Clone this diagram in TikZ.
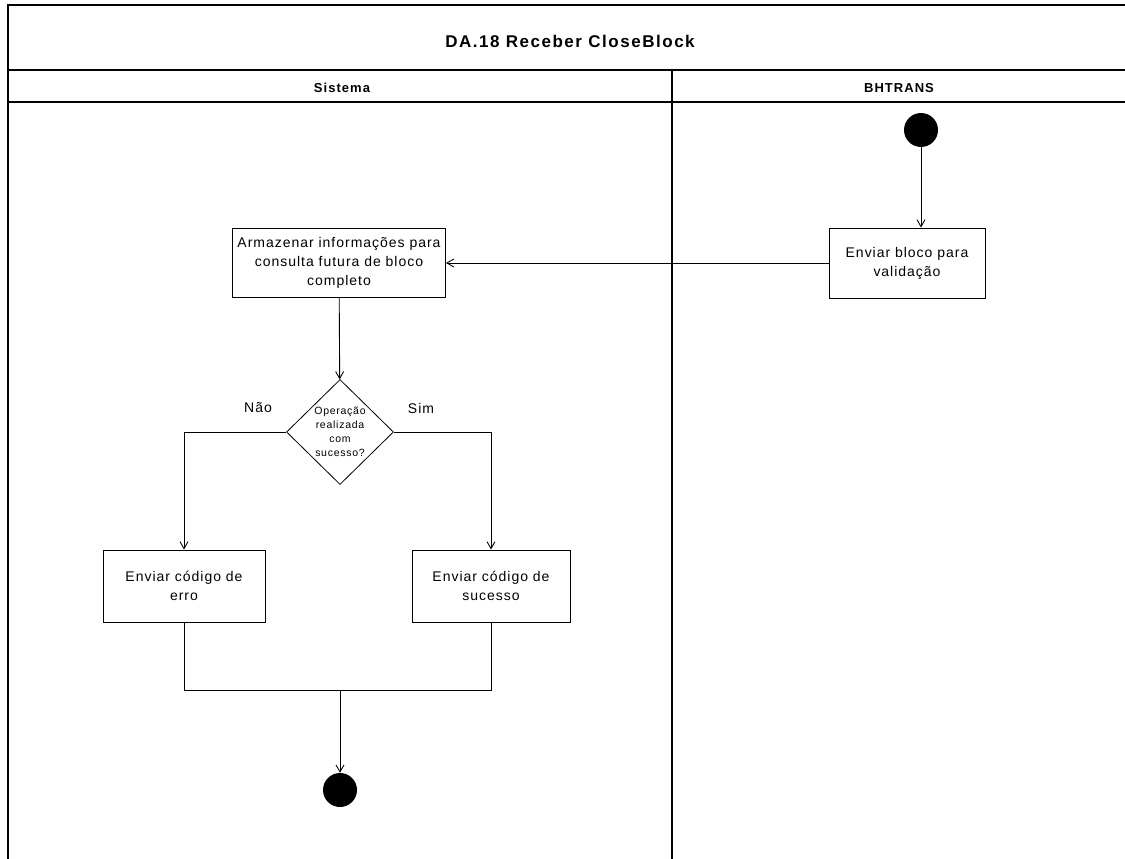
\documentclass[tikz,border=0pt]{standalone}
\usepackage{fontspec}
\setmainfont{Liberation Sans}
\newfontfamily\boxfont[LetterSpace=7]{Liberation Sans}
\newfontfamily\titlefont[LetterSpace=9]{Liberation Sans}
\newfontfamily\lanefont[LetterSpace=8]{Liberation Sans}
\usetikzlibrary{positioning,arrows.meta,shapes.geometric}
\tikzset{
    act/.style={rectangle,draw,line width=0.9pt,align=center,inner sep=2pt,font={\boxfont\fontsize{14}{19}\selectfont}},
    dec/.style={diamond,draw,line width=0.8pt,align=center,inner sep=0pt,minimum width=107pt,minimum height=105pt,font={\boxfont\fontsize{10.5}{14}\selectfont}},
    ini/.style={circle,fill=black,minimum size=34pt,inner sep=0pt},
    flow/.style={-{Straight Barb[length=7pt,width=8pt]},line width=0.9pt},
    lane/.style={line width=1.2pt},
    guard/.style={font={\boxfont\fontsize{14}{17}\selectfont}},
    hdr/.style={font={\lanefont\bfseries\fontsize{13}{15}\selectfont}},
}

\begin{document}
\begin{tikzpicture}[x=1pt,y=-1pt]
\useasboundingbox (0,0) rectangle (1125,859);
% frame and lanes
\draw[lane] (1125,5) -- (8,5) -- (8,859);
\draw[lane] (8,70) -- (1125,70);
\draw[lane] (8,102) -- (1125,102);
\draw[lane] (672,70) -- (672,859);
\node[font={\titlefont\bfseries\fontsize{17}{20}\selectfont}] (title) at (570,41) {DA.18 Receber CloseBlock};
\node[hdr] (sis) at (342,88) {Sistema};
\node[hdr] (bht) at (899,88) {BHTRANS};

% BHTRANS lane
\node[ini] (start) at (921,130) {};
\node[act,minimum width=156pt,minimum height=70pt] (valid) at (907,263) {Enviar bloco para\\validação};

% Sistema lane
\node[act,minimum width=213pt,minimum height=69pt] (armz) at (339,263) {Armazenar informações para\\consulta futura de bloco\\completo};
\node[dec] (ok) at (340,432) {Operação\\realizada\\com\\sucesso?};
\node[act,minimum width=162pt,minimum height=72pt] (err) at (184,586) {Enviar código de\\erro};
\node[act,minimum width=158pt,minimum height=72pt] (suc) at (491,586) {Enviar código de\\sucesso};
\coordinate (join) at (340,690);
\node[ini] (final) at (340,790) {};

\node[guard] (nao) at (258,408) {Não};
\node[guard] (sim) at (421,408) {Sim};

% flows
\draw[flow] (start) -- (start |- valid.north);
\draw[flow] (valid) -- (armz);
\draw[flow] (armz) -- (ok);
\draw[flow] (ok.west) -| (err.north);
\draw[flow] (ok.east) -| (suc.north);
\draw[line width=0.9pt] (err.south) |- (join);
\draw[line width=0.9pt] (suc.south) |- (join);
\draw[flow] (join) -- (final);
\end{tikzpicture}
\end{document}
